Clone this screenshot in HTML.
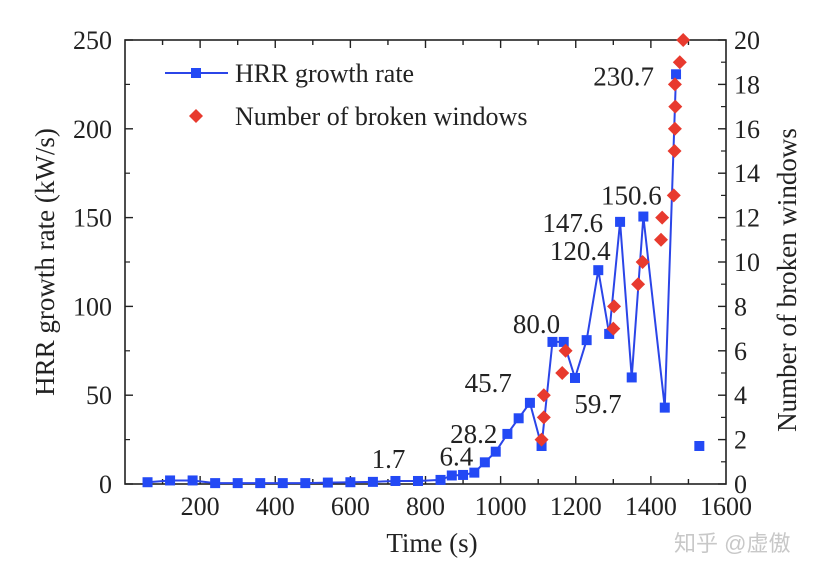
<!DOCTYPE html>
<html><head><meta charset="utf-8"><style>
body{margin:0;background:#fff}
svg text{font-family:"Liberation Serif",serif;fill:#222}
</style></head><body>
<svg id="chart" width="823" height="574" viewBox="0 0 823 574" xmlns="http://www.w3.org/2000/svg">
<g id="axes"></g><g id="marks"></g>
</svg>
<script>
const hrrTimes=[60,120,180,240,300,360,420,480,540,600,660,720,780,840,870,900,930,958,987,1018,1048,1078,1109,1138,1168,1198,1229,1260,1289,1318,1349,1380,1437,1467];
const hrrValues=[1,2,2,0.5,0.5,0.5,0.5,0.5,0.8,1,1.2,1.7,1.7,2.3,4.8,5.1,6.4,12.2,18.2,28.2,37,45.7,21.4,80,80,59.7,81,120.4,84.5,147.6,60,150.6,43,230.7];
const extraTimes=[1529];
const extraValues=[21.4];
const winTimes=[1109,1115,1115,1164,1173,1300,1302,1366,1378,1427,1430,1461,1463,1464,1465,1464,1477,1486];
const winValues=[2,3,4,5,6,7,8,9,10,11,12,13,15,16,17,18,19,20];
const labelTexts=["230.7","150.6","147.6","120.4","80.0","45.7","59.7","28.2","6.4","1.7"];
const labelTimes=[1467,1380,1318,1260,1138,1078,1198,1018,930,720];
const labelValues=[230.7,150.6,147.6,120.4,80,45.7,59.7,28.2,6.4,1.7];
const xTicks=[200,400,600,800,1000,1200,1400,1600];
const yTicks=[0,50,100,150,200,250];
const y2Ticks=[0,2,4,6,8,10,12,14,16,18,20];

const X0=125,X1=726,Y0=484,Y1=40;
const xs=t=>X0+t/1600*(X1-X0);
const ys=v=>Y0-v/250*(Y0-Y1);
const y2s=v=>Y0-v/20*(Y0-Y1);
const NS="http://www.w3.org/2000/svg";
function mk(tag,attrs,parent,txt){const e=document.createElementNS(NS,tag);for(const k in attrs)e.setAttribute(k,attrs[k]);if(txt!=null)e.textContent=txt;parent.appendChild(e);return e;}
const ax=document.getElementById('axes'),mg=document.getElementById('marks');

const frame=mk('rect',{x:X0,y:Y1,width:X1-X0,height:Y0-Y1,fill:'none',stroke:'#222','stroke-width':1.6},ax);

for(let t=100;t<1600;t+=100){const L=t%200===0?8:5;
 mk('line',{x1:xs(t),x2:xs(t),y1:Y0,y2:Y0-L,stroke:'#222','stroke-width':1.4},ax);
 mk('line',{x1:xs(t),x2:xs(t),y1:Y1,y2:Y1+L,stroke:'#222','stroke-width':1.4},ax);}
xTicks.forEach(t=>{const e=mk('text',{x:xs(t),y:515,'text-anchor':'middle','font-size':26},ax,t);
 });
yTicks.forEach(v=>{mk('line',{x1:X0,x2:X0+8,y1:ys(v),y2:ys(v),stroke:'#222','stroke-width':1.4},ax);
 const e=mk('text',{x:112,y:ys(v)+9,'text-anchor':'end','font-size':26},ax,v);
 });
for(let v=25;v<250;v+=50)mk('line',{x1:X0,x2:X0+5,y1:ys(v),y2:ys(v),stroke:'#222','stroke-width':1.2},ax);
y2Ticks.forEach(v=>{mk('line',{x1:X1,x2:X1-8,y1:y2s(v),y2:y2s(v),stroke:'#222','stroke-width':1.4},ax);
 const e=mk('text',{x:734,y:y2s(v)+9,'font-size':26},ax,v);
 });
for(let v=1;v<20;v+=2)mk('line',{x1:X1,x2:X1-5,y1:y2s(v),y2:y2s(v),stroke:'#222','stroke-width':1.2},ax);
let e=mk('text',{x:432,y:552,'text-anchor':'middle','font-size':27},ax,'Time (s)');

e=mk('text',{x:0,y:0,'text-anchor':'middle','font-size':27,transform:'translate(54,262) rotate(-90)'},ax,'HRR growth rate (kW/s)');

e=mk('text',{x:0,y:0,'text-anchor':'middle','font-size':27,transform:'translate(796,280) rotate(-90)'},ax,'Number of broken windows');


const pts=hrrTimes.map((t,i)=>xs(t)+','+ys(hrrValues[i])).join(' ');
e=mk('polyline',{points:pts,fill:'none',stroke:'#2b45e8','stroke-width':2},mg);

function sq(t,v){const m=mk('rect',{x:xs(t)-5,y:ys(v)-5,width:10,height:10,fill:'#2349f5'},mg);
 }
hrrTimes.forEach((t,i)=>sq(t,hrrValues[i]));
extraTimes.forEach((t,i)=>sq(t,extraValues[i]));
winTimes.forEach((t,i)=>{const x=xs(t),y=y2s(winValues[i]);
 const m=mk('polygon',{points:`${x},${y-7} ${x+7},${y} ${x},${y+7} ${x-7},${y}`,fill:'#e83a2e'},mg);
 });
const offs=[[-22,11,'end'],[-12,-12,'middle'],[-17,10,'end'],[-18,-10,'middle'],[-16,-9,'middle'],[-18,-11,'end'],[23,35,'middle'],[-10,9,'end'],[-18,-7,'middle'],[-7,-13,'middle']];
labelTexts.forEach((s,i)=>{const o=offs[i];
 const l=mk('text',{x:xs(labelTimes[i])+o[0],y:ys(labelValues[i])+o[1],'text-anchor':o[2],'font-size':27},mg,s);
 });

const lg=mk('g',{},mg);
mk('line',{x1:165,x2:228,y1:73,y2:73,stroke:'#2b45e8','stroke-width':2},lg);
mk('rect',{x:191,y:68,width:10,height:10,fill:'#2349f5'},lg);
e=mk('text',{x:235,y:82,'font-size':26},lg,'HRR growth rate');

mk('polygon',{points:'196,109 203,116 196,123 189,116',fill:'#e83a2e'},lg);
e=mk('text',{x:235,y:125,'font-size':26},lg,'Number of broken windows');


e=mk('text',{x:674,y:551,'font-size':22,style:'fill:#c8c8c8;font-family:"Liberation Sans","Noto Sans CJK SC",sans-serif'},mg,'知乎 @虚傲');

</script>
</body></html>
